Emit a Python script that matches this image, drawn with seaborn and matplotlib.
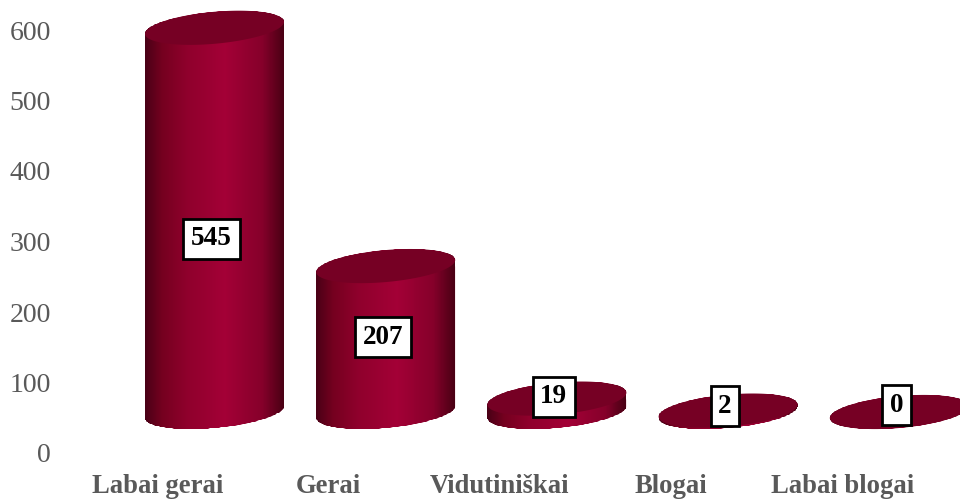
import numpy as np
import pandas as pd
import matplotlib
matplotlib.use("Agg")
import matplotlib.pyplot as plt
from matplotlib.colors import LinearSegmentedColormap
from matplotlib.patches import Polygon
import seaborn as sns

categories = ["Labai gerai", "Gerai", "Vidutiniškai", "Blogai", "Labai blogai"]
values = [545, 207, 19, 2, 0]
y_ticks = [0, 100, 200, 300, 400, 500, 600]

df = pd.DataFrame({"category": categories, "value": values})

sns.set_theme(style="white")
plt.rcParams["font.family"] = ["Liberation Serif", "DejaVu Serif"]

W, H = 960, 499
fig = plt.figure(figsize=(W / 100, H / 100), dpi=100)
left_px, bottom_px = 60, H - 453
ax = fig.add_axes([left_px / W, bottom_px / H, (W - left_px) / W, 453 / H])

# pixels per category / per unit, so the fake 3D can be worked out in pixels
px_x = 171.2
px_y = 0.705
x_first = 157.5

sns.barplot(data=df, x="category", y="value", color="#a00035", width=139 / px_x,
            ax=ax, zorder=2)
ax.set_xlim((left_px - x_first) / px_x, (W - x_first) / px_x)
ax.set_ylim(0, 453 / px_y)

# bars stand back from the axis, shifted right and up
depth_x = 57 / px_x
depth_y = 41 / px_y
a, slope, q = 69.5, 6, 16

body_cmap = LinearSegmentedColormap.from_list(
    "body", [(0, "#4a0016"), (0.12, "#75001f"), (0.3, "#8f002c"), (0.58, "#a30036"),
             (0.85, "#85002a"), (1, "#4a0014")])


def ring(cx, cy, t):
    xs = cx + a * np.cos(t) / px_x
    ys = cy + (slope * np.cos(t) + q * np.sin(t)) / px_y
    return np.column_stack([xs, ys])


for patch, val in zip(ax.patches, values):
    x0 = patch.get_x() + depth_x
    w = patch.get_width()
    cx = x0 + w / 2
    patch.set_x(x0)
    patch.set_y(depth_y)

    low = ring(cx, depth_y, np.linspace(np.pi, 2 * np.pi, 80))
    high = ring(cx, depth_y + val, np.linspace(0, np.pi, 80))
    body = Polygon(np.vstack([low, high]), closed=True, transform=ax.transData)
    patch.set_clip_path(body)

    edges = np.linspace(x0, x0 + w, 141)
    grad = np.linspace(0, 1, 140).reshape(1, -1)
    mesh = ax.pcolormesh(edges, [depth_y - 40, depth_y + val + 40], grad, cmap=body_cmap,
                         shading="flat", zorder=3, rasterized=True)
    mesh.set_clip_path(body)

    top = ring(cx, depth_y + val, np.linspace(0, 2 * np.pi, 160))
    ax.add_patch(Polygon(top, closed=True, facecolor="#760024", edgecolor="none", zorder=4))

# value boxes sit near the middle of each bar
label_y = [304, 164, 79.5, 66.5, 67.5]
for i, (val, ly) in enumerate(zip(values, label_y)):
    ax.annotate(str(val), (i + depth_x - 3 / px_x, ly), ha="center", va="center",
                fontsize=19.5, fontweight="bold", color="black", zorder=6,
                bbox=dict(boxstyle="square,pad=0.28", facecolor="white", edgecolor="black",
                          linewidth=2))

ax.set_yticks(y_ticks)
ax.set_xlabel("")
ax.set_ylabel("")
ax.tick_params(axis="y", length=0, pad=6.5, labelsize=20, labelcolor="#595959")
ax.tick_params(axis="x", length=0, pad=15, labelsize=19.2, labelcolor="#595959")
for lab in ax.get_xticklabels():
    lab.set_fontweight("bold")
sns.despine(ax=ax, left=True, bottom=True)
ax.grid(False)
ax.patch.set_alpha(0)

fig.savefig("out.png", dpi=100, facecolor="white")
